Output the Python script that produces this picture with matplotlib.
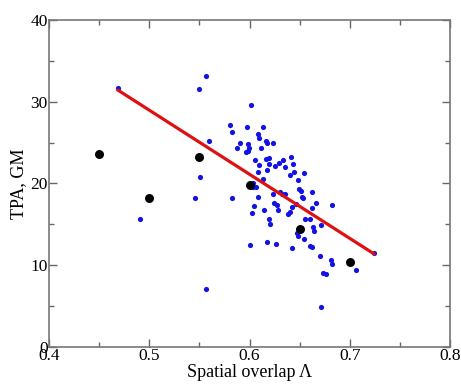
import numpy as np
import matplotlib.pyplot as plt
from matplotlib.ticker import MultipleLocator

# individual samples (blue)
overlap = [0.469, 0.557, 0.550, 0.601, 0.560, 0.581, 0.583, 0.597, 0.613, 0.608,
           0.609, 0.616, 0.617, 0.623, 0.611, 0.590, 0.587, 0.598, 0.599, 0.596,
           0.598, 0.551, 0.546, 0.583, 0.491, 0.557, 0.605, 0.609, 0.608, 0.616,
           0.619, 0.619, 0.617, 0.629, 0.633, 0.625, 0.635, 0.641, 0.643, 0.644,
           0.640, 0.654, 0.648, 0.613, 0.603, 0.603, 0.606, 0.608, 0.604, 0.602,
           0.614, 0.619, 0.620, 0.623, 0.624, 0.627, 0.630, 0.632, 0.635, 0.628,
           0.638, 0.640, 0.642, 0.646, 0.649, 0.651, 0.652, 0.653, 0.662, 0.666,
           0.662, 0.655, 0.660, 0.663, 0.664, 0.648, 0.654, 0.660, 0.662, 0.671,
           0.682, 0.642, 0.626, 0.617, 0.600, 0.670, 0.681, 0.682, 0.673, 0.676,
           0.706, 0.724, 0.671, 0.647]
tpa = [31.7, 33.1, 31.6, 29.6, 25.2, 27.2, 26.3, 26.9, 26.9, 26.0,
       25.6, 25.2, 24.9, 25.0, 24.4, 24.9, 24.4, 24.8, 24.4, 23.9,
       24.0, 20.8, 18.2, 18.2, 15.6, 7.1, 22.9, 22.2, 21.4, 23.0,
       23.1, 22.4, 21.7, 22.5, 22.9, 22.1, 22.0, 23.3, 22.4, 21.4,
       21.0, 21.3, 20.4, 20.5, 20.0, 19.6, 19.6, 18.4, 17.3, 16.4,
       16.8, 15.6, 15.0, 18.7, 17.6, 17.4, 19.0, 18.7, 18.7, 16.7,
       16.3, 16.5, 17.1, 17.5, 19.3, 19.1, 18.4, 18.2, 19.0, 17.6,
       17.0, 15.7, 15.6, 14.7, 14.2, 13.6, 13.2, 12.4, 12.2, 14.9,
       17.4, 12.1, 12.6, 12.8, 12.5, 11.1, 10.6, 10.2, 9.0, 8.9,
       9.4, 11.5, 4.9, 14.0]

# binned averages (black)
bin_x = [0.45, 0.50, 0.55, 0.60, 0.65, 0.70]
bin_y = [23.6, 18.2, 23.3, 19.8, 14.4, 10.4]

# fit line end points
fit_x = [0.469, 0.724]
fit_y = [31.4, 11.4]

plt.rcParams['font.family'] = ['Liberation Serif', 'DejaVu Serif']

fig = plt.figure(figsize=(4.61, 3.88), dpi=100)
ax = fig.add_axes([0.1063, 0.1057, 0.8700, 0.8428])

ax.scatter(overlap, tpa, s=14, color='#1212e6', zorder=2, linewidths=0)
ax.plot(fit_x, fit_y, color='#dd1111', lw=2.3, zorder=3)
ax.scatter(bin_x, bin_y, s=42, color='black', zorder=4, linewidths=0)

ax.set_xlim(0.4, 0.8)
ax.set_ylim(0, 40)
ax.xaxis.set_major_locator(MultipleLocator(0.1))
ax.xaxis.set_minor_locator(MultipleLocator(0.05))
ax.yaxis.set_major_locator(MultipleLocator(10))
ax.yaxis.set_minor_locator(MultipleLocator(5))
ax.xaxis.set_major_formatter(plt.FuncFormatter(lambda v, p: '%.1f' % v))
ax.yaxis.set_major_formatter(plt.FuncFormatter(lambda v, p: '%d' % v))

ax.tick_params(which='both', direction='in', top=True, right=True,
               color='#666666', labelsize=12.5, pad=1)
ax.tick_params(which='major', length=6, width=1)
ax.tick_params(which='minor', length=3.5, width=1)
for s in ax.spines.values():
    s.set_color('#777777')
    s.set_linewidth(1.2)

ax.set_xlabel('Spatial overlap \u039b', fontsize=13, labelpad=0)
ax.set_ylabel('TPA, GM', fontsize=13, labelpad=2)

fig.savefig('out.png', dpi=100)
